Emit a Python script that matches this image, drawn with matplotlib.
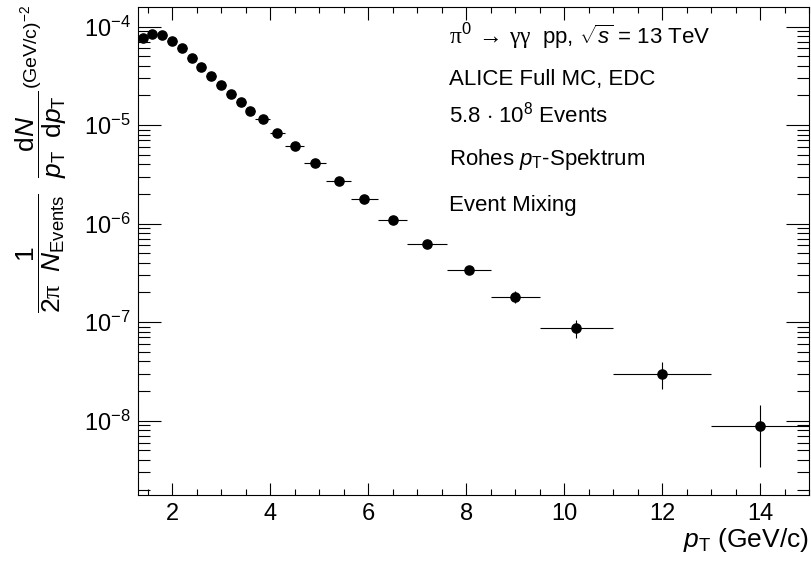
import matplotlib
matplotlib.use('Agg')
import matplotlib.pyplot as plt
import numpy as np
from matplotlib.ticker import MultipleLocator, LogLocator, NullFormatter

plt.rcParams['font.family'] = ['Liberation Sans', 'DejaVu Sans']
plt.rcParams['mathtext.fontset'] = 'custom'
plt.rcParams['mathtext.rm'] = 'Liberation Sans'
plt.rcParams['mathtext.it'] = 'Liberation Sans:italic'
plt.rcParams['mathtext.bf'] = 'Liberation Sans:bold'
plt.rcParams['mathtext.sf'] = 'Liberation Serif'

# pT bin edges (GeV/c)
bin_edges = [1.3, 1.5, 1.7, 1.9, 2.1, 2.3, 2.5, 2.7, 2.9, 3.1, 3.3, 3.5, 3.7,
             4.0, 4.3, 4.7, 5.15, 5.65, 6.2, 6.8, 7.6, 8.5, 9.5, 11.0, 13.0, 15.0]

# raw yield per bin
yields = [7.70e-5, 8.45e-5, 8.20e-5, 7.08e-5, 6.01e-5, 4.79e-5, 3.88e-5, 3.17e-5,
          2.57e-5, 2.07e-5, 1.70e-5, 1.39e-5, 1.14e-5, 8.36e-6, 6.08e-6, 4.11e-6,
          2.68e-6, 1.77e-6, 1.09e-6, 6.19e-7, 3.35e-7, 1.81e-7, 8.75e-8, 3.01e-8,
          8.85e-9]

yield_err = [1.0e-6, 1.1e-6, 1.0e-6, 0.9e-6, 0.8e-6, 0.7e-6, 0.6e-6, 0.5e-6,
             0.45e-6, 0.4e-6, 0.35e-6, 0.3e-6, 0.28e-6, 0.22e-6, 0.18e-6, 0.14e-6,
             0.11e-6, 0.085e-6, 0.06e-6, 3.5e-8, 2.6e-8, 2.6e-8, 1.85e-8, 0.92e-8,
             5.5e-9]

info_lines = [
    'ALICE Full MC, EDC',
    r'5.8 $\cdot$ 10$^{8}$ Events',
    r'Rohes $p_{\mathrm{T}}$-Spektrum',
    'Event Mixing',
]
info_baselines = [85, 123, 165, 211]  # pixel from top

edges = np.array(bin_edges)
centers = 0.5 * (edges[:-1] + edges[1:])
xerr = [centers - edges[:-1], edges[1:] - centers]

W, H = 811, 565
fig = plt.figure(figsize=(W / 100, H / 100), dpi=100)
ax = fig.add_axes([137.7 / W, 1 - 495 / H, (809.3 - 137.7) / W, (495 - 6.7) / H])

ax.errorbar(centers, yields, xerr=xerr, yerr=yield_err, fmt='o', color='black',
            ms=6.6, elinewidth=0.8, capsize=0)

ax.set_yscale('log')
ax.set_xlim(1.3, 15)
ax.set_ylim(1.76e-9, 1.59e-4)

ax.xaxis.set_major_locator(MultipleLocator(2))
ax.xaxis.set_minor_locator(MultipleLocator(0.5))
ax.yaxis.set_minor_locator(LogLocator(base=10, subs=np.arange(2, 10)))
ax.yaxis.set_minor_formatter(NullFormatter())

for s in ax.spines.values():
    s.set_linewidth(0.8)
ax.tick_params(which='both', direction='in', top=True, right=True, width=0.8)
ax.tick_params(axis='x', which='major', length=9, labelsize=17, pad=6)
ax.tick_params(axis='x', which='minor', length=4.5)
ax.tick_params(axis='y', which='major', length=16.5, labelsize=17, pad=5)
ax.tick_params(axis='y', which='minor', length=8.3)

# first info line: decay part with serif greek, then collision system
fig.text(449 / W, 1 - 44 / H,
         r'$\mathsf{\pi}^{0}\,\rightarrow\,\mathsf{\gamma\gamma}$',
         ha='left', va='baseline', fontsize=17)
fig.text(542 / W, 1 - 44 / H, r'pp, $\sqrt{s}$ = 13 TeV',
         ha='left', va='baseline', fontsize=16)
for txt, yb in zip(info_lines, info_baselines):
    fig.text(449 / W, 1 - yb / H, txt, ha='left', va='baseline', fontsize=16)

fig.text(809 / W, 1 - 540 / H, r'$p_{\mathrm{T}}$ (GeV/c)', ha='right', va='center',
         fontsize=19)

# y title: fractions large, unit smaller on top
ylab = (r'$\dfrac{1}{2\mathsf{\pi}\;\ N_{\mathrm{Events}}}\ \ '
        r'\dfrac{\mathrm{d}N}{p_{\mathrm{T}}\;\ \mathrm{d}p_{\mathrm{T}}\,}$')
fig.text(41 / W, 1 - 90 / H, ylab, rotation=90, ha='center', va='top', fontsize=19)
fig.text(31 / W, 1 - 5 / H, r'(GeV/c)$^{-2}$', rotation=90, ha='center', va='top',
         fontsize=14)

fig.savefig('out.png', dpi=100)
